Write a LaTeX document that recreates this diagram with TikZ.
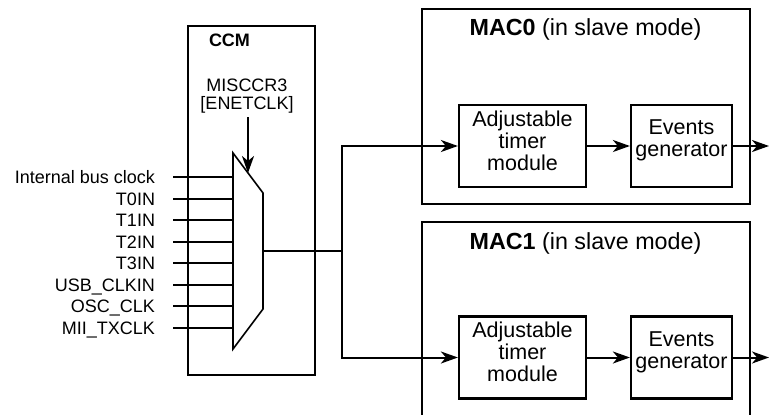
\documentclass[tikz,border=0pt]{standalone}
\usepackage{fontspec}
\setmainfont{Liberation Sans}
\usetikzlibrary{positioning, calc, arrows.meta}

\begin{document}
\begin{tikzpicture}[x=1pt, y=-1pt, line width=2pt,
        >={Stealth[length=17pt, width=12pt, inset=5pt]},
        blk/.style={draw, line width=2.2pt, inner sep=0pt},
        blktxt/.style={font=\fontsize{21.5}{22}\selectfont, align=center, inner sep=0pt},
        titletxt/.style={font=\fontsize{23.3}{25}\selectfont, anchor=base, inner sep=0pt},
        inlabel/.style={font=\fontsize{18}{21}\selectfont, anchor=east, inner sep=0pt,
            text height=13pt, text depth=0pt}]
        % Fix the picture size
        \useasboundingbox (0,0) rectangle (769,415);
        \clip (0,0) rectangle (769,415);

        % Draw CCM block
        \node[blk, minimum width=127pt, minimum height=349pt] (ccm) at (251.5,200.5) {};
        \node[font=\fontsize{18}{21}\selectfont\bfseries, anchor=base west, inner sep=0pt]
            (ccmlab) at (208,46.7) {CCM};

        % Select register label
        \node[font=\fontsize{18}{18.5}\selectfont, align=center, inner sep=0pt, outer sep=3.5pt]
            (sel) at (247,96.2) {MISCCR3\\\relax[ENETCLK]};

        % Define corners of the multiplexer
        \coordinate (m1) at (233,153);
        \coordinate (m2) at (263,193);
        \coordinate (m3) at (263,309);
        \coordinate (m4) at (233,349);
        \draw[line width=1.6pt] (m1) -- (m2) -- (m3) -- (m4) -- cycle;
        \coordinate (msel) at ($(m1)!0.5!(m2)$);
        \coordinate (mout) at ($(m2)!0.5!(m3)$);

        % Select arrow
        \draw[->] (sel.south -| msel) -- (msel);

        % Clock inputs
        \foreach \lab [count=\i from 0] in {Internal bus clock, T0IN, T1IN, T2IN, T3IN,
                USB\_CLKIN, OSC\_CLK, MII\_TXCLK} {
            \node[inlabel] (in\i) at (156,177+21.57*\i) {\lab};
            \coordinate (mx\i) at (233,177+21.57*\i);
            \draw ([xshift=17pt]in\i.east) -- (mx\i);
        }

        % Draw MAC blocks
        \node[blk, minimum width=328pt, minimum height=195pt] (mac0) at (586,106.5) {};
        \node[blk, minimum width=328pt, minimum height=230pt] (mac1) at (586,337) {};
        \node[titletxt] (mac0lab) at (585.5,35) {\textbf{MAC0} (in slave mode)};
        \node[titletxt] (mac1lab) at (585.5,249.3) {\textbf{MAC1} (in slave mode)};

        % Timer and events blocks
        \node[blk, minimum width=127pt, minimum height=82pt] (tim0) at (522.5,146) {};
        \node[blk, minimum width=101pt, minimum height=82pt] (ev0) at (681.5,146) {};
        \node[blk, minimum width=127pt, minimum height=82pt] (tim1) at (522.5,357.5) {};
        \node[blk, minimum width=101pt, minimum height=82pt] (ev1) at (681.5,357.5) {};
        \node[blktxt] (tim0lab) at ([yshift=5.5pt]tim0.center) {Adjustable\\timer\\module};
        \node[blktxt] (ev0lab) at ([yshift=5.5pt]ev0.center) {Events\\generator};
        \node[blktxt] (tim1lab) at ([yshift=5.5pt]tim1.center) {Adjustable\\timer\\module};
        \node[blktxt] (ev1lab) at ([yshift=5.5pt]ev1.center) {Events\\generator};

        % Clock distribution
        \coordinate (bus) at (342,251);
        \draw (mout) -- (bus);
        \draw[->] (bus) |- (tim0.west);
        \draw[->] (bus) |- (tim1.west);
        \draw[->] (tim0) -- (ev0);
        \draw[->] (tim1) -- (ev1);

        % Outputs
        \coordinate (out0) at (769,146);
        \coordinate (out1) at (769,357.5);
        \draw[->] (ev0) -- (out0);
        \draw[->] (ev1) -- (out1);
    \end{tikzpicture}
\end{document}
